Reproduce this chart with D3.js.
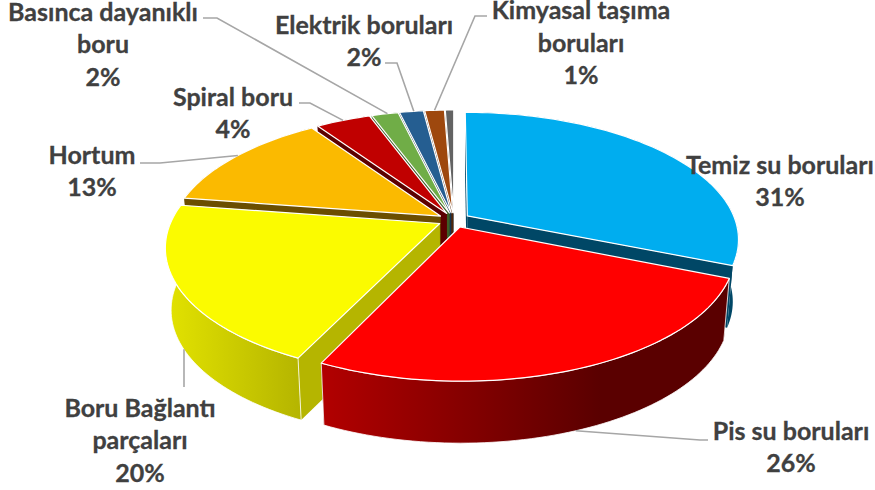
<!DOCTYPE html>
<html>
<head>
<meta charset="utf-8">
<script src="https://cdn.jsdelivr.net/npm/d3@7"></script>
<style>
  html, body { margin: 0; padding: 0; background: #fff; }
  text { font-family: Lato, "Open Sans", sans-serif; font-weight: 700; fill: #404040; stroke: #404040; stroke-width: 0.3; }
</style>
</head>
<body>
<svg id="chart" width="875" height="490"></svg>
<script>
// values, last slice has no label
const categories = ["Temiz su boruları", "Pis su boruları", "Boru Bağlantı parçaları", "Hortum", "Spiral boru", "Basınca dayanıklı boru", "Elektrik boruları", "Kimyasal taşıma boruları", "Diğer"]
const values = [31.2, 25.9, 20.3, 13.1, 3.9, 1.9, 1.7, 1.4, 0.6]
const topColors = ["#00adef", "#ff0000", "#fbfb00", "#fbba00", "#c00000", "#70ad47", "#255e91", "#9e480e", "#636363"]
const sideColors = ["#004766", "#5c0000", "#b5b500", "#6b4e00", "#5c0000", "#3c5f26", "#14334f", "#552707", "#353535"]

// layout of the labels (center x, first line y), text lines and leader start
const labelLines = [
  ["Temiz su boruları"], ["Pis su boruları"], ["Boru Bağlantı", "parçaları"], ["Hortum"], ["Spiral boru"],
  ["Basınca dayanıklı", "boru"], ["Elektrik boruları"], ["Kimyasal taşıma", "boruları"], []
]
const labelX = [780, 791, 140, 92, 233, 103, 364, 581, 0]
const labelY = [165, 431, 408, 155, 97, 12, 25, 10.5, 0]
const leaderStart = [null, [[708, 440], [700, 440]], [[184, 387]], [[140, 163], [160, 163]], [[299, 103], [310, 103]],
  [[203, 18], [217, 18]], [[385, 63], [397, 63]], [[487, 16], [475, 16]], null]

const cx = 454, cy = 220
const depth = 62, bottomShrink = 0.98
const persp = 0.18
const explode = 0.06

const x = d3.scaleLinear().domain([-1, 1]).range([-268, 268])
const y = d3.scaleLinear().domain([-1, 1]).range([-123.6, 123.6])

let svg = d3.select("#chart")

// flat disc coordinates -> screen, nearer points get larger
function project(px, py, bottom) {
  let w = 1 - persp * py
  let sx = x(px) / w
  let sy = y(py) / w
  if (bottom) {
    return [cx + sx * bottomShrink, cy + sy + depth]
  }
  return [cx + sx, cy + sy]
}

let arcs = d3.pie().sort(null).value(d => d)(values)

let line = d3.line()

function rim(d, bottom) {
  let mid = (d.startAngle + d.endAngle) / 2
  let ox = Math.sin(mid) * explode, oy = -Math.cos(mid) * explode
  let n = Math.max(4, Math.ceil((d.endAngle - d.startAngle) * 40))
  return d3.range(n + 1).map(i => {
    let a = d.startAngle + (d.endAngle - d.startAngle) * i / n
    return project(ox + Math.sin(a), oy - Math.cos(a), bottom)
  })
}

function apex(d, bottom) {
  let mid = (d.startAngle + d.endAngle) / 2
  return project(Math.sin(mid) * explode, -Math.cos(mid) * explode, bottom)
}

// gradients on the outer walls of the two front slices
let defs = svg.append("defs")
function wallGradient(id, x1, x2, c1, c2) {
  let g = defs.append("linearGradient").attr("id", id)
    .attr("gradientUnits", "userSpaceOnUse")
    .attr("x1", x1).attr("x2", x2).attr("y1", 0).attr("y2", 0)
  g.append("stop").attr("offset", 0).attr("stop-color", c1)
  g.append("stop").attr("offset", 1).attr("stop-color", c2)
}
wallGradient("wall-1", 318, 600, "#b30000", "#5a0000")
wallGradient("wall-2", 168, 300, "#e2e200", "#b5b500")

// painter's order: back slices first
const drawOrder = [8, 7, 6, 5, 4, 3, 0, 2, 1]

let slices = svg.append("g").selectAll("g")
  .data(drawOrder)
  .join("g")

slices.each(function (i) {
  let d = arcs[i]
  let g = d3.select(this)
  let top = rim(d, false), bot = rim(d, true)
  let a0 = apex(d, false), a1 = apex(d, true)
  let front = i == 1 || i == 2

  // the two cut faces
  let faces = [
    [a0, top[0], bot[0], a1],
    [a0, top[top.length - 1], bot[bot.length - 1], a1]
  ]
  g.selectAll(".face").data(faces).join("path")
    .attr("class", "face")
    .attr("d", f => line(f) + "Z")
    .attr("fill", sideColors[i])

  // outer wall
  g.append("path")
    .attr("d", line(top.concat(bot.slice().reverse())) + "Z")
    .attr("fill", front ? "url(#wall-" + i + ")" : sideColors[i])
    .attr("stroke", front ? "#fff" : "none")
    .attr("stroke-width", 0.8)

  // top of the slice
  g.append("path")
    .attr("d", line([a0].concat(top)) + "Z")
    .attr("fill", topColors[i])
    .attr("stroke", "#fff")
    .attr("stroke-width", 1.2)
    .attr("stroke-linejoin", "round")
})

// leader lines run from the label to the slice rim
let leaders = svg.append("g")
leaderStart.forEach((pts, i) => {
  if (!pts) return
  let d = arcs[i]
  let r = rim(d, i == 1 || i == 2)
  let end = r[Math.floor(r.length / 2)]
  if (i == 2) end = [pts[0][0], end[1]]
  leaders.append("path")
    .attr("d", line(pts.concat([end])))
    .attr("fill", "none")
    .attr("stroke", "#a6a6a6")
    .attr("stroke-width", 1.6)
})

// labels
const lineStep = 32.5
categories.forEach((c, i) => {
  if (!labelLines[i].length) return
  let rows = labelLines[i].concat([d3.format(".0%")(values[i] / 100)])
  svg.append("g").selectAll("text")
    .data(rows)
    .join("text")
    .attr("x", labelX[i])
    .attr("y", (r, k) => labelY[i] + k * lineStep)
    .attr("dy", "0.35em")
    .attr("text-anchor", "middle")
    .attr("font-size", 25)
    .text(r => r)
})
</script>
</body>
</html>
